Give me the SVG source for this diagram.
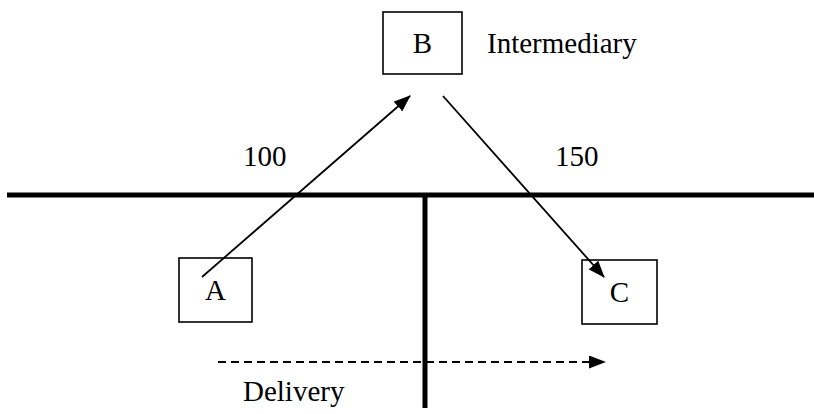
<svg xmlns="http://www.w3.org/2000/svg" width="814" height="414" viewBox="0 0 814 414">
<defs>
<style>
.box{fill:#fff;stroke:#000;stroke-width:1.6}
.t{font-family:"Liberation Serif","Times New Roman",serif;font-size:29px;fill:#000}
.ln{stroke:#000;stroke-width:1.8;fill:none}
.bar{stroke:#000;stroke-width:5;fill:none}
</style>
<marker id="ah" markerWidth="17" markerHeight="13" refX="16" refY="6.5" orient="auto" markerUnits="userSpaceOnUse">
<path d="M0,0 L17,6.5 L0,13 Z" fill="#000"/>
</marker>
</defs>
<g id="structure">
<line class="bar" x1="7" y1="195" x2="814" y2="195"/>
<line class="bar" x1="425" y1="195" x2="425" y2="408"/>
</g>
<g id="node-B">
<rect class="box" x="383" y="12" width="79" height="62"/>
<text class="t" x="422.5" y="53" text-anchor="middle">B</text>
</g>
<g id="node-A">
<rect class="box" x="179" y="258" width="73" height="64"/>
<text class="t" x="215.5" y="300" text-anchor="middle">A</text>
</g>
<g id="node-C">
<rect class="box" x="582" y="260" width="75" height="64"/>
<text class="t" x="619.5" y="302" text-anchor="middle">C</text>
</g>
<g id="connectors">
<line class="ln" x1="202" y1="277" x2="410" y2="96" marker-end="url(#ah)"/>
<line class="ln" x1="443" y1="96" x2="604" y2="277" marker-end="url(#ah)"/>
<line class="ln" x1="218" y1="362" x2="605" y2="362" stroke-dasharray="8 5" marker-end="url(#ah)"/>
</g>
<g id="labels">
<text class="t" x="487" y="53">Intermediary</text>
<text class="t" x="243" y="166">100</text>
<text class="t" x="555" y="166">150</text>
<text class="t" x="243" y="401">Delivery</text>
</g>
</svg>
